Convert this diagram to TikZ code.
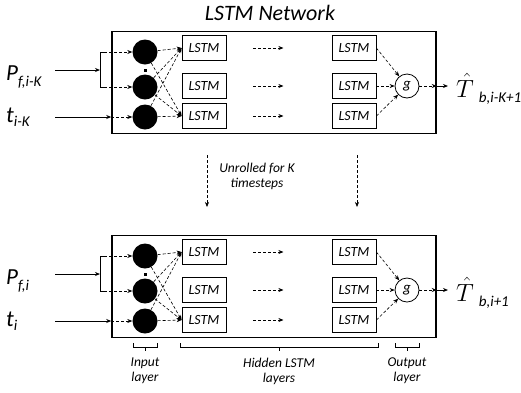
\documentclass[tikz,border=0pt]{standalone}
\usepackage{fontspec}
\setmainfont{Carlito}
\usetikzlibrary{arrows.meta}

\begin{document}
\begin{tikzpicture}[x=1pt,y=-1pt,
  netbox/.style={draw,line width=1.5pt,minimum width=324pt,minimum height=102pt,inner sep=0pt},
  unit/.style={circle,fill=black,minimum size=25pt,inner sep=0pt},
  cell/.style={draw,line width=.8pt,minimum width=44pt,minimum height=25pt,inner sep=0pt,font=\fontsize{14}{14}\selectfont\itshape},
  gnode/.style={draw,circle,line width=.8pt,minimum size=24pt,inner sep=0pt,font=\fontsize{15}{15}\selectfont\itshape},
  flow/.style={dash pattern=on 3pt off 2pt,line width=.6pt,-{Stealth[length=5pt,width=4pt]}},
  feed/.style={line width=.9pt,-{Stealth[length=5pt,width=4pt]}},
  lbl/.style={font=\fontsize{13.5}{15}\selectfont\itshape,align=center}]
\useasboundingbox (0,0) rectangle (521,392);

\node[font=\fontsize{22}{22}\selectfont\itshape] (title) at (270,13) {LSTM Network};

\foreach \k/\dy/\pin/\tin/\tout in {1/0/{f,i-K}/{i-K}/{b,i-K+1},2/204/{f,i}/{i}/{b,i+1}}{
  \node[netbox] (net\k) at (274,82.5+\dy) {};
  % input layer
  \node[unit] (a\k) at (145,52+\dy) {};
  \node[unit] (b\k) at (145,87+\dy) {};
  \node[unit] (c\k) at (145,117+\dy) {};
  \node[fill,minimum size=3pt,inner sep=0pt] (dot\k) at (145,70+\dy) {};
  % hidden layers
  \node[cell] (la\k) at (204,48+\dy) {LSTM};
  \node[cell] (lb\k) at (204,86+\dy) {LSTM};
  \node[cell] (lc\k) at (204,116+\dy) {LSTM};
  \node[cell] (ld\k) at (354,48+\dy) {LSTM};
  \node[cell] (le\k) at (354,86+\dy) {LSTM};
  \node[cell] (lf\k) at (354,116+\dy) {LSTM};
  % output layer
  \node[gnode] (g\k) at (407,86+\dy) {g};
  % inputs
  \node[anchor=base west,inner sep=0pt] (p\k) at (6,80+\dy)
    {\fontsize{23}{23}\selectfont\itshape P\raisebox{-6pt}{\fontsize{15}{15}\selectfont\pin}};
  \node[anchor=base west,inner sep=0pt] (t\k) at (6,122+\dy)
    {\fontsize{23}{23}\selectfont\itshape t\raisebox{-4pt}{\fontsize{15}{15}\selectfont\tin}};
  \node[anchor=base west,inner sep=0pt] (y\k) at (456,97+\dy)
    {\fontsize{28}{28}\selectfont$\hat{T}$\hspace{5pt}\raisebox{-5pt}{\fontsize{15}{15}\selectfont\itshape\tout}};
  \coordinate (ps\k) at (55,70+\dy);
  \coordinate (pe\k) at (100,70+\dy);
  \coordinate (bt\k) at (104,52+\dy);
  \coordinate (bb\k) at (104,87+\dy);
  \coordinate (ts\k) at (55,117+\dy);
  \coordinate (te\k) at (net\k.west |- c\k);
  \coordinate (go\k) at (net\k.east |- g\k);
  \coordinate (ye\k) at (448,86+\dy);
  \draw[feed] (ps\k) -- (pe\k);
  \draw[line width=.8pt] (bt\k) -- ++(-4,0) |- (bb\k);
  \draw[flow] (bt\k) -- (a\k.west);
  \draw[flow] (bb\k) -- (b\k.west);
  \draw[feed] (ts\k) -- (te\k);
  \draw[flow] (te\k) -- (c\k.west);
  \foreach \s in {a,b,c}{
    \draw[flow] (\s\k) -- (la\k.west);
    \draw[flow] (\s\k) -- (lc\k.west);
  }
  \foreach \s in {la,lb,lc}
    \draw[flow] ([xshift=27pt]\s\k.east) -- ++(30,0);
  \foreach \s in {ld,le,lf}
    \draw[flow] (\s\k.east) -- (g\k);
  \draw[flow] (g\k) -- (go\k);
  \draw[feed] (go\k) -- (ye\k);
}

% unrolling
\coordinate (u1) at (207,155);
\coordinate (u2) at (207,207);
\coordinate (v1) at (357,155);
\coordinate (v2) at (357,207);
\draw[flow] (u1) -- (u2);
\draw[flow] (v1) -- (v2);
\node[lbl] (unroll) at (257,176) {Unrolled for K\\timesteps};

% layer brackets
\draw[line width=.8pt] (133,343) |- (157,347) -- (157,343) (145,347) -- (145,351);
\draw[line width=.8pt] (180,343) |- (378,347) -- (378,343) (279,347) -- (279,351);
\draw[line width=.8pt] (395,343) |- (419,347) -- (419,343) (407,347) -- (407,351);
\node[lbl] (inl) at (145,371) {Input\\layer};
\node[lbl] (hidl) at (279,371) {Hidden LSTM\\layers};
\node[lbl] (outl) at (407,371) {Output\\layer};
\end{tikzpicture}
\end{document}
